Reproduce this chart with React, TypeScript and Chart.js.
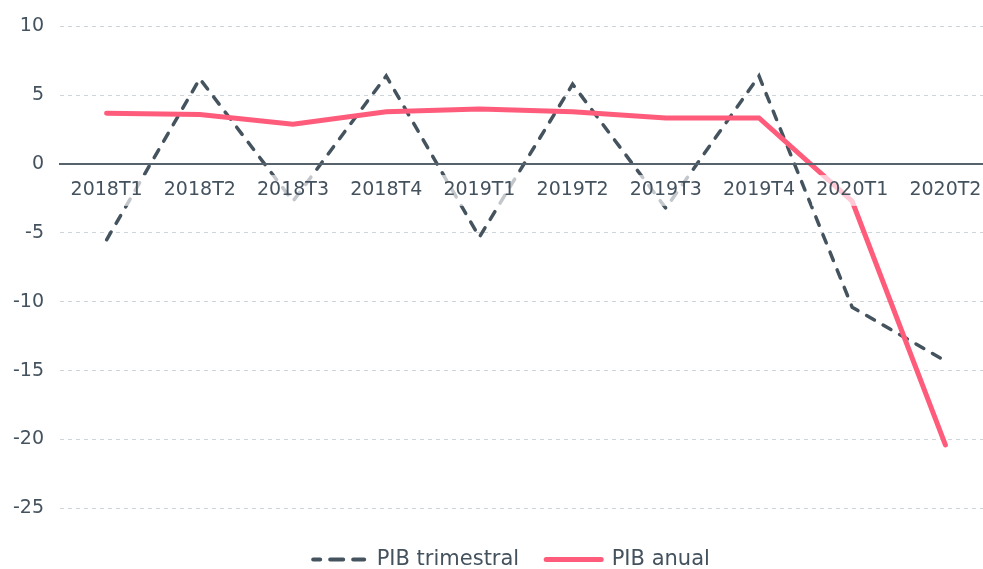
import React, { useEffect, useRef } from "react";
import { Chart, registerables } from "chart.js";

Chart.register(...registerables);

const categories = ["2018T1", "2018T2", "2018T3", "2018T4", "2019T1", "2019T2", "2019T3", "2019T4", "2020T1", "2020T2"];
const pibTrimestral = [-5.5, 6.2, -2.7, 6.4, -5.3, 5.8, -3.2, 6.4, -10.4, -14.3];
const pibAnual = [3.7, 3.6, 2.9, 3.8, 4.0, 3.8, 3.35, 3.35, -2.7, -20.4];
const yMin = -26;
const yMax = 10;
const yStep = 5;

const FONT = "'DejaVu Sans', sans-serif";
const TEXT = "#44525e";
const DARK = "#44535e";
const PINK = "#ff5c7c";

export default function App() {
  const ref = useRef<HTMLCanvasElement | null>(null);

  useEffect(() => {
    if (!ref.current) return;
    const chart = new Chart(ref.current, {
      type: "line",
      data: {
        labels: categories,
        datasets: [
          {
            label: "PIB trimestral",
            data: pibTrimestral,
            borderColor: DARK,
            backgroundColor: DARK,
            borderWidth: 3.5,
            borderDash: [9, 10],
            borderCapStyle: "round",
            borderJoinStyle: "miter",
            pointRadius: 0,
            tension: 0,
            order: 1,
          },
          {
            label: "PIB anual",
            data: pibAnual,
            borderColor: PINK,
            backgroundColor: PINK,
            borderWidth: 5,
            borderCapStyle: "round",
            borderJoinStyle: "miter",
            pointRadius: 0,
            tension: 0,
            order: 0,
          },
        ],
      },
      options: {
        animation: false,
        responsive: true,
        maintainAspectRatio: false,
        layout: { padding: { top: 25, left: 0, right: 0, bottom: 0 } },
        plugins: {
          tooltip: { enabled: false },
          legend: {
            position: "bottom",
            labels: {
              usePointStyle: true,
              pointStyle: "line",
              pointStyleWidth: 55,
              padding: 27,
              color: TEXT,
              font: { family: FONT, size: 21 },
              sort: (a: any, b: any) => a.datasetIndex - b.datasetIndex,
              generateLabels: (c: any) => {
                const items = (Chart.defaults.plugins.legend.labels as any).generateLabels(c);
                items.forEach((it: any) => {
                  it.lineCap = "round";
                  if (it.datasetIndex === 0) {
                    it.lineWidth = 4;
                    it.lineDash = [7, 10, 13, 10, 11, 2];
                    it.lineDashOffset = 51;
                  } else {
                    it.lineWidth = 5;
                  }
                });
                return items;
              },
            },
          },
        },
        scales: {
          x: {
            type: "category",
            position: { y: 0 } as any,
            offset: true,
            grid: { display: false, drawTicks: false },
            border: { display: true, color: "#56636d", width: 2, z: 1 },
            ticks: {
              z: 1,
              padding: 15,
              color: TEXT,
              font: { family: FONT, size: 19 },
              maxRotation: 0,
              autoSkip: false,
              showLabelBackdrop: true,
              backdropColor: "rgba(255,255,255,0.68)",
              backdropPadding: 4,
            } as any,
          },
          y: {
            min: yMin,
            max: yMax,
            afterFit: (scale: any) => {
              scale.width = 60;
            },
            grid: { color: "#cdd4da", lineWidth: 1, drawTicks: false },
            border: { display: false, dash: [4, 4] },
            ticks: {
              stepSize: yStep,
              includeBounds: false,
              padding: 16,
              color: TEXT,
              font: { family: FONT, size: 19 },
            },
          },
          yRight: {
            position: "right",
            min: yMin,
            max: yMax,
            afterFit: (scale: any) => {
              scale.width = 29;
            },
            grid: { display: false, drawTicks: false },
            border: { display: false },
            ticks: { display: false },
          },
        },
      },
    });
    return () => chart.destroy();
  }, []);

  return (
    <div style={{ position: "absolute", left: 0, top: 0, width: 983, height: 569, overflow: "hidden", background: "#fff" }}>
      <div style={{ position: "absolute", left: 0, top: -1, width: 1021, height: 581 }}>
        <canvas ref={ref} />
      </div>
    </div>
  );
}
